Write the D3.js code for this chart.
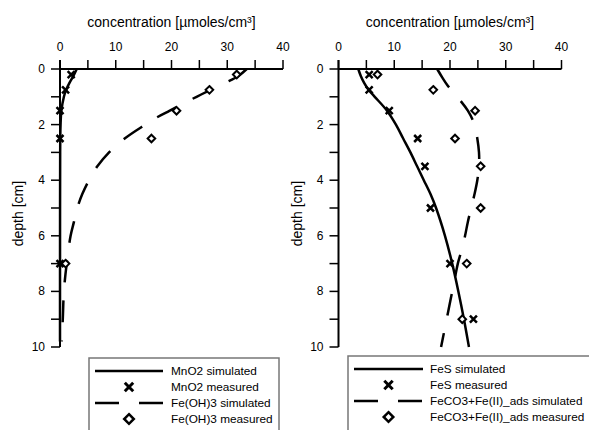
<!DOCTYPE html>
<html>
<head>
<meta charset="utf-8">
<script src="https://cdn.jsdelivr.net/npm/d3@7"></script>
<style>
  body { margin: 0; background: #fff; }
  svg { display: block; font-family: "Liberation Sans", Arial, sans-serif; }
</style>
</head>
<body>
<svg width="589" height="430"></svg>
<script>
// values: [depth cm, concentration umol/cm3]
const concTicks = [0, 10, 20, 30, 40];
const concMinorTicks = [5, 15, 25, 35];
const depthTicks = [0, 1, 2, 3, 4, 5, 6, 7, 8, 9, 10];
const depthLabels = [0, 2, 4, 6, 8, 10];

const mno2Simulated = [[0, 3], [0.25, 2.4], [0.5, 1.7], [0.75, 1.1], [1, 0.7], [1.5, 0.25], [2, 0.1], [3, 0.03], [5, 0.01], [9.8, 0]];
const mno2Measured = [[0.2, 2.0], [0.75, 1.0], [1.5, 0], [2.5, 0], [7, 0]];
const feoh3Simulated = [[0, 33.5], [0.25, 32], [0.5, 29.6], [0.75, 27], [1, 24.5], [1.25, 22], [1.5, 19.7], [1.75, 17.3], [2, 15.3], [2.5, 11.6], [3, 8.8], [3.5, 6.7], [4, 5.2], [4.5, 4], [5, 3.1], [5.5, 2.5], [6, 1.9], [7, 1.2], [8, 0.7], [9, 0.5], [9.8, 0.3]];
const feoh3Measured = [[0.2, 31.7], [0.75, 26.8], [1.5, 20.9], [2.5, 16.4], [7, 1.0]];

const fesSimulated = [[0, 3.55], [0.25, 4.0], [0.5, 4.6], [0.75, 5.4], [1, 6.5], [1.5, 8.7], [2, 10.3], [2.5, 11.6], [3, 12.9], [3.5, 14.1], [4, 15.3], [4.5, 16.5], [5, 17.5], [6, 19.1], [7, 20.4], [8, 21.5], [9, 22.5], [10, 23.4]];
const fesMeasured = [[0.2, 5.5], [0.75, 5.5], [1.5, 9.1], [2.5, 14.2], [3.5, 15.5], [5, 16.5], [7, 20.0], [9, 24.2]];
const feco3Simulated = [[0, 17.7], [0.3, 18.6], [0.6, 19.6], [1, 21.3], [1.5, 23.2], [2, 24.4], [2.5, 24.9], [3, 25.2], [3.5, 25.2], [4, 24.9], [4.5, 24.4], [5, 23.8], [5.5, 23.2], [6, 22.7], [6.5, 22.1], [7, 21.4], [7.5, 20.9], [8, 20.4], [8.5, 19.9], [9, 19.4], [9.5, 18.9], [10, 18.4]];
const feco3Measured = [[0.2, 7.0], [0.75, 17.0], [1.5, 24.5], [2.5, 20.9], [3.5, 25.5], [5, 25.5], [7, 23.0], [9, 22.2]];

const leftNames = ["MnO2 simulated", "MnO2 measured", "Fe(OH)3 simulated", "Fe(OH)3 measured"];
const rightNames = ["FeS simulated", "FeS measured", "FeCO3+Fe(II)_ads simulated", "FeCO3+Fe(II)_ads measured"];

const svg = d3.select("svg");
const dash = "22,18";

function crossPath(s) {
  return "M" + (-s) + "," + (-s) + "L" + s + "," + s + "M" + (-s) + "," + s + "L" + s + "," + (-s);
}
function diamondPath(s) {
  return "M0," + (-s) + "L" + s + ",0L0," + s + "L" + (-s) + ",0Z";
}

function drawPanel(x0, solid, crosses, dashed, diamonds, names, legend) {
  const x = d3.scaleLinear().domain([0, 40]).range([x0, x0 + 223]);
  const y = d3.scaleLinear().domain([0, 10]).range([69, 347]);
  const g = svg.append("g");

  // axis title
  g.append("text")
      .attr("x", x(20)).attr("y", 22)
      .attr("text-anchor", "middle").attr("dominant-baseline", "central")
      .style("font-size", "14px")
      .text("concentration [\u00b5moles/cm\u00b3]");

  // top axis
  g.append("line")
      .attr("x1", x(0)).attr("x2", x(40))
      .attr("y1", y(0)).attr("y2", y(0))
      .attr("stroke", "#000").attr("stroke-width", 2);
  g.selectAll(".xt").data(concTicks.concat(concMinorTicks)).enter()
    .append("line")
      .attr("x1", d => x(d)).attr("x2", d => x(d))
      .attr("y1", y(0) - 9).attr("y2", y(0))
      .attr("stroke", "#000").attr("stroke-width", 1.5);
  g.selectAll(".xl").data(concTicks).enter()
    .append("text")
      .attr("x", d => x(d)).attr("y", 47)
      .attr("text-anchor", "middle").attr("dominant-baseline", "central")
      .style("font-size", "12px")
      .text(d => d);

  // left axis
  g.append("line")
      .attr("x1", x(0)).attr("x2", x(0))
      .attr("y1", y(0) - 9).attr("y2", y(10))
      .attr("stroke", "#000").attr("stroke-width", 2);
  g.selectAll(".yt").data(depthTicks).enter()
    .append("line")
      .attr("x1", x(0) - 9).attr("x2", x(0))
      .attr("y1", d => y(d)).attr("y2", d => y(d))
      .attr("stroke", "#000").attr("stroke-width", 1.5);
  g.selectAll(".yl").data(depthLabels).enter()
    .append("text")
      .attr("x", x(0) - 15).attr("y", d => y(d))
      .attr("text-anchor", "end").attr("dominant-baseline", "central")
      .style("font-size", "12px")
      .text(d => d);
  g.append("text")
      .attr("transform", "translate(" + (x0 - 42) + "," + y(5.2) + ")rotate(-90)")
      .attr("text-anchor", "middle").attr("dominant-baseline", "central")
      .style("font-size", "14px")
      .text("depth [cm]");

  const line = d3.line()
      .x(d => x(d[1]))
      .y(d => y(d[0]))
      .curve(d3.curveCatmullRom);

  g.append("path")
      .attr("d", line(solid))
      .attr("fill", "none").attr("stroke", "#000").attr("stroke-width", 2.5);
  g.append("path")
      .attr("d", line(dashed))
      .attr("fill", "none").attr("stroke", "#000").attr("stroke-width", 2.5)
      .attr("stroke-dasharray", dash);

  g.selectAll(".cross").data(crosses).enter()
    .append("path")
      .attr("transform", d => "translate(" + x(d[1]) + "," + y(d[0]) + ")")
      .attr("d", crossPath(3.5))
      .attr("stroke", "#000").attr("stroke-width", 2.5).attr("fill", "none");
  g.selectAll(".diamond").data(diamonds).enter()
    .append("path")
      .attr("transform", d => "translate(" + x(d[1]) + "," + y(d[0]) + ")")
      .attr("d", diamondPath(3.8))
      .attr("stroke", "#000").attr("stroke-width", 2).attr("fill", "#fff");

  // legend
  const lg = svg.append("g");
  lg.append("rect")
      .attr("x", legend.x).attr("y", legend.y)
      .attr("width", legend.w).attr("height", 100)
      .attr("fill", "#fff").attr("stroke", "#777").attr("stroke-width", 1.5);
  const rows = names.map((n, i) => ({ name: n, cy: legend.y + 13 + i * 16 }));
  lg.selectAll("text").data(rows).enter()
    .append("text")
      .attr("x", legend.tx).attr("y", d => d.cy)
      .attr("dominant-baseline", "central")
      .style("font-size", "11.8px")
      .text(d => d.name);
  lg.append("line")
      .attr("x1", legend.l1).attr("x2", legend.l2)
      .attr("y1", rows[0].cy).attr("y2", rows[0].cy)
      .attr("stroke", "#000").attr("stroke-width", 2.5);
  lg.append("line")
      .attr("x1", legend.l1).attr("x2", legend.l2)
      .attr("y1", rows[2].cy).attr("y2", rows[2].cy)
      .attr("stroke", "#000").attr("stroke-width", 2.5)
      .attr("stroke-dasharray", "24,20");
  const mx = (legend.l1 + legend.l2) / 2;
  lg.append("path")
      .attr("transform", "translate(" + mx + "," + rows[1].cy + ")")
      .attr("d", crossPath(4.2))
      .attr("stroke", "#000").attr("stroke-width", 3).attr("fill", "none");
  lg.append("path")
      .attr("transform", "translate(" + mx + "," + rows[3].cy + ")")
      .attr("d", diamondPath(4.8))
      .attr("stroke", "#000").attr("stroke-width", 2.5).attr("fill", "#fff");
}

drawPanel(60, mno2Simulated, mno2Measured, feoh3Simulated, feoh3Measured, leftNames,
  { x: 89, y: 358, w: 190, tx: 171, l1: 95, l2: 163 });
drawPanel(338.5, fesSimulated, fesMeasured, feco3Simulated, feco3Measured, rightNames,
  { x: 348, y: 356, w: 260, tx: 430, l1: 354, l2: 423 });
</script>
</body>
</html>
